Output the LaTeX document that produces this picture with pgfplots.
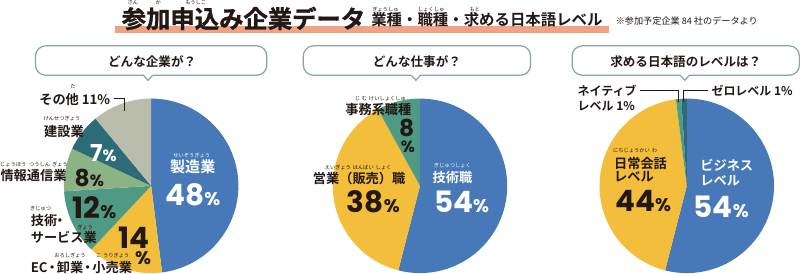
\documentclass[border=0pt]{standalone}
\usepackage{pgfplots}
\pgfplotsset{compat=1.18}
\usepackage{fontspec}
\setmainfont{Noto Sans CJK JP}[BoldFont={Noto Sans CJK JP Bold}]
\newfontfamily\titlefont{Noto Sans CJK JP Bold}[FakeBold=1.2]
\newfontfamily\numfont{Poppins}
\definecolor{cblue}{HTML}{4779B9}
\definecolor{cyellow}{HTML}{F3BE3C}
\definecolor{cteal}{HTML}{4F9A84}
\definecolor{clgreen}{HTML}{8BB383}
\definecolor{cdteal}{HTML}{2D6B78}
\definecolor{cgray}{HTML}{B9BBAB}
\definecolor{salmon}{HTML}{EFA382}
\definecolor{bub}{HTML}{86A4A4}
\definecolor{txt}{HTML}{231815}
% cx, cy, start (%), size (%), colour
\newcommand{\slice}[5]{%
  \addplot[fill=#5, draw=none, domain=#3*3.6:#3*3.6+#4*3.6, samples=90, variable=\t]
    ({#1+86*sin(\t)},{#2-86*cos(\t)}) -- (axis cs:#1,#2) -- cycle;}
\newcommand{\ruby}[4][txt]{\node[font=\fontsize{2.6}{3}\selectfont, text=#1, inner sep=0] at (axis cs:#2,#3) {#4};}
\newcommand{\num}[3]{{\numfont\bfseries\fontsize{#1}{#1}\selectfont #3}{\numfont\bfseries\fontsize{#2}{#2}\selectfont\%}}
\newcommand{\bubble}[5]{% x1, x2, pointer x, text centre x, text
  \draw[bub, line width=0.6pt, rounded corners=5pt] (axis cs:#1,49) rectangle (axis cs:#2,78);
  \fill[white] (axis cs:#3-4.5,76) rectangle (axis cs:#3+4.5,80);
  \draw[bub, line width=0.6pt] (axis cs:#3-4.5,78) -- (axis cs:#3,83) -- (axis cs:#3+4.5,78);
  \node[font=\bfseries\fontsize{6.2}{7}\selectfont, text=txt, inner sep=0] at (axis cs:#4,64.5) {#5};}
\newcommand{\nd}{\kern-0.3em・\kern-0.3em}
\newcommand{\nde}{\kern-0.15em・\kern-0.15em}
\tikzset{lab/.style={font=\bfseries\fontsize{6.5}{7}\selectfont, text=txt, inner sep=0}}
\begin{document}
\begin{tikzpicture}
\begin{axis}[scale only axis, width=400pt, height=141pt, xmin=0, xmax=800, ymin=0, ymax=282,
  y dir=reverse, hide axis, clip=false]
% ---- pie 1: industry
\slice{156}{187}{0}{48}{cblue}
\slice{156}{187}{48}{14}{cyellow}
\slice{156}{187}{62}{12}{cteal}
\slice{156}{187}{74}{8}{clgreen}
\slice{156}{187}{82}{7}{cdteal}
\slice{156}{187}{89}{11}{cgray}
% ---- pie 2: job type
\slice{421}{187}{0}{54}{cblue}
\slice{421}{187}{54}{38}{cyellow}
\slice{421}{187}{92}{8}{cteal}
% ---- pie 3: Japanese level
\slice{684}{187}{0}{54}{cblue}
\slice{684}{187}{54}{44}{cyellow}
\slice{684}{187}{98}{1}{cteal}
\slice{684}{187}{99}{1}{cdteal}

% title
\fill[salmon] (axis cs:120,29) rectangle (axis cs:607,36);
\node[font=\titlefont\fontsize{12}{13}\selectfont, text=txt, inner sep=0] at (axis cs:247,22) {参加申込み企業データ};
\node[font=\bfseries\fontsize{7.6}{8}\selectfont, text=txt, inner sep=0] at (axis cs:487,23) {業種・職種・求める日本語レベル};
\node[font=\fontsize{4.5}{5}\selectfont, text=txt, inner sep=0] at (axis cs:684,25) {※参加予定企業 84 社のデータより};
\ruby{138}{6}{さん}
\ruby{163}{6}{か}
\ruby{200}{6}{もうしこ}
\ruby{387}{13}{ぎょうしゅ}
\ruby{432}{13}{しょくしゅ}
\ruby{475}{13}{もと}

% bubbles
\bubble{42}{270}{153}{157}{どんな企業が？}
\bubble{306}{530}{417}{418}{どんな仕事が？}
\bubble{571}{795}{682}{683}{求める日本語のレベルは？}

% pie 1 labels
\ruby[white]{196}{157}{せいぞうぎょう}
\node[lab, text=white, font=\bfseries\fontsize{7.4}{8}\selectfont] at (axis cs:197,168) {製造業};
\node[inner sep=0, text=white] at (axis cs:197,196) {\num{14.5}{9}{48}};
\node[inner sep=0, text=txt] at (axis cs:139,238.5) {\numfont\bfseries\fontsize{14.5}{14.5}\selectfont 14};
\node[inner sep=0, text=txt] at (axis cs:148,258.5) {\numfont\bfseries\fontsize{9}{9}\selectfont\%};
\node[inner sep=0, text=txt] at (axis cs:100,208.5) {\num{14.5}{9}{12}};
\node[inner sep=0, text=txt] at (axis cs:95,179) {\num{11.5}{8}{8}};
\node[inner sep=0, text=white] at (axis cs:109,155) {\num{11.5}{8}{7}};
\node[lab, anchor=east] at (axis cs:116,102) {その他 11\%};
\draw[txt, line width=0.4pt] (axis cs:119,101) -- (axis cs:130,101) -- (axis cs:130,113);
\ruby{79}{89}{た}
\ruby{68}{121}{けんせつぎょう}
\node[lab] at (axis cs:70,133) {建設業};
\ruby{20}{166}{じょうほう}
\ruby{46}{166}{つうしん}
\ruby{66}{166}{ぎょう}
\node[lab] at (axis cs:40,177) {情報通信業};
\ruby{47}{209}{ぎじゅつ}
\node[lab, anchor=west] at (axis cs:37,221) {技術\nd};
\ruby{91}{228}{ぎょう}
\node[lab, anchor=west] at (axis cs:37,238) {サービス業};
\ruby{76}{256}{おろしぎょう}
\ruby{118}{256}{こ\,\,うりぎょう}
\node[lab, anchor=west] at (axis cs:37,267.5) {EC\nde 卸業\nde 小売業};

% pie 2 labels
\ruby{382}{101}{じ\,\,む\,\,けいしょくしゅ}
\node[lab] at (axis cs:380,112) {事務系職種};
\node[inner sep=0, text=txt] at (axis cs:408,130) {\numfont\bfseries\fontsize{11.5}{11.5}\selectfont 8};
\node[inner sep=0, text=txt] at (axis cs:409,149) {\numfont\bfseries\fontsize{8}{8}\selectfont\%};
\ruby{360}{169}{えいぎょう\,\,はんばい\,\,しょく}
\node[lab] at (axis cs:361,180) {営業（販売）職};
\node[inner sep=0, text=txt] at (axis cs:375,203) {\num{14.5}{9}{38}};
\ruby[white]{453}{167}{ぎじゅつしょく}
\node[lab, text=white] at (axis cs:453,179) {技術職};
\node[inner sep=0, text=white] at (axis cs:462,203) {\num{14.5}{9}{54}};

% pie 3 labels
\node[lab, anchor=west, font=\bfseries\fontsize{5.9}{7}\selectfont] at (axis cs:576,93) {ネイティブ};
\node[lab, anchor=west, font=\bfseries\fontsize{5.9}{7}\selectfont] at (axis cs:576,108.5) {レベル 1\%};
\draw[txt, line width=0.4pt] (axis cs:638,93) -- (axis cs:676,93) -- (axis cs:676,104);
\node[lab, anchor=west, font=\bfseries\fontsize{5.9}{7}\selectfont] at (axis cs:708,93) {ゼロレベル 1\%};
\draw[txt, line width=0.4pt] (axis cs:705,93) -- (axis cs:681,93) -- (axis cs:681,104);
\ruby{633}{152}{にちじょうかい\,\,わ}
\node[lab, anchor=west] at (axis cs:612,165) {日常会話};
\node[lab, anchor=west] at (axis cs:612,178) {レベル};
\node[inner sep=0, text=txt] at (axis cs:641,202) {\num{14.5}{9}{44}};
\node[lab, anchor=west, text=white] at (axis cs:697,167) {ビジネス};
\node[lab, anchor=west, text=white] at (axis cs:697,182) {レベル};
\node[inner sep=0, text=white] at (axis cs:718,208) {\num{14.5}{9}{54}};
\end{axis}
\end{tikzpicture}
\end{document}
